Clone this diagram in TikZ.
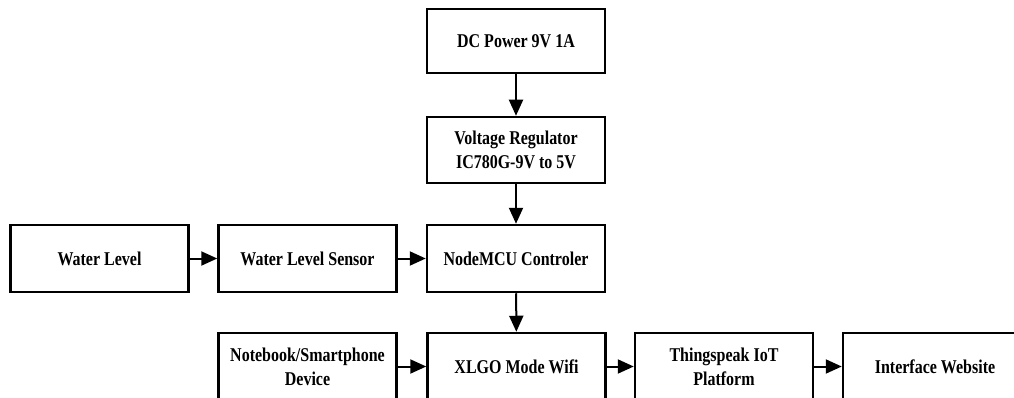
\documentclass[tikz,border=0pt]{standalone}
\usepackage{fontspec}
\setmainfont{Liberation Serif}[FakeStretch=0.82]
\usetikzlibrary{arrows.meta}
\begin{document}
\begin{tikzpicture}[x=1pt,y=-1pt,
  blk/.style={draw=black, line width=2.5pt, minimum width=178pt, minimum height=65pt,
    inner sep=0pt, align=center, font=\fontsize{19.5}{24}\selectfont\bfseries},
  arr/.style={line width=2pt, -{Triangle[length=16pt,width=14pt]}}]
\useasboundingbox (0,0) rectangle (1014,398);
\clip (0,0) rectangle (1014,398);
\node[blk, minimum height=64pt] (dc) at (516,41) {DC Power 9V 1A};
\node[blk, minimum height=66pt] (vr) at (516,150) {Voltage Regulator\\IC780G-9V to 5V};
\node[blk, minimum height=67pt] (wl) at (99.5,258.5) {Water Level};
\node[blk, minimum height=67pt] (ws) at (307.5,258.5) {Water Level Sensor};
\node[blk, minimum height=67pt] (mcu) at (516,258.5) {NodeMCU Controler};
\node[blk, minimum height=67pt] (nb) at (307.5,366.5) {Notebook/Smartphone\\Device};
\node[blk, minimum height=67pt] (xl) at (516.5,366.5) {XLGO Mode Wifi};
\node[blk, minimum height=67pt] (ts) at (724,366.5) {Thingspeak IoT\\Platform};
\node[blk, minimum height=67pt, minimum width=184pt] (iw) at (935,366.5) {Interface Website};
\draw[arr] (dc) -- (vr);
\draw[arr] (vr) -- (mcu);
\draw[arr] (wl) -- (ws);
\draw[arr] (ws) -- (mcu);
\draw[arr] (mcu) -- (xl);
\draw[arr] (nb) -- (xl);
\draw[arr] (xl) -- (ts);
\draw[arr] (ts) -- (iw);
\end{tikzpicture}
\end{document}
